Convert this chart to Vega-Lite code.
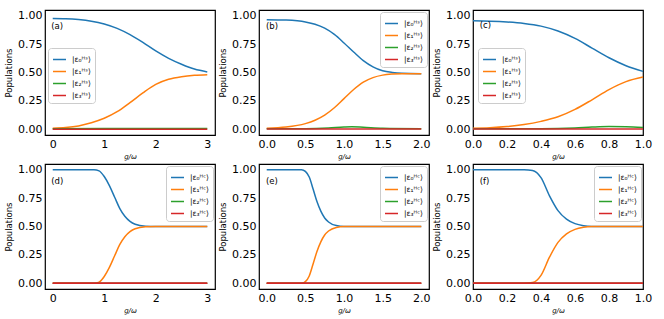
{
  "$schema": "https://vega.github.io/schema/vega-lite/v6.json",
  "padding": {"left": 3, "top": 9, "right": 5, "bottom": 5},
  "background": "white",
  "config": {
    "font": "DejaVu Sans",
    "view": {"stroke": "black", "strokeWidth": 1.2},
    "axis": {"labelFont": "DejaVu Sans", "labelFontSize": 11, "labelColor": "black", "titleFont": "DejaVu Sans", "titleFontSize": 8.5, "titleFontWeight": "normal", "titleColor": "black", "ticks": false, "grid": false, "domain": false, "labelPadding": 3, "labelOverlap": false, "labelFlush": false, "labelBound": false, "tickCount": 20},
    "axisY": {"titlePadding": 4},
    "axisX": {"titleFontStyle": "italic", "titleFontSize": 7, "titlePadding": 3},
    "legend": {"labelFont": "DejaVu Sans", "labelFontSize": 7.5, "labelColor": "black", "symbolType": "stroke", "symbolStrokeWidth": 1.5, "symbolSize": 169, "strokeColor": "#cccccc", "fillColor": "rgba(255,255,255,0.8)", "cornerRadius": 3, "padding": 4, "rowPadding": 1, "labelOffset": 5, "title": null}
  },
  "datasets": {
    "a": [
      {"g":0,"p":0.975,"s":"|ε₀ᴴˢ⟩"},{"g":0.25,"p":0.973,"s":"|ε₀ᴴˢ⟩"},{"g":0.5,"p":0.966,"s":"|ε₀ᴴˢ⟩"},{"g":0.75,"p":0.952,"s":"|ε₀ᴴˢ⟩"},{"g":1,"p":0.927,"s":"|ε₀ᴴˢ⟩"},{"g":1.25,"p":0.888,"s":"|ε₀ᴴˢ⟩"},{"g":1.5,"p":0.833,"s":"|ε₀ᴴˢ⟩"},{"g":1.75,"p":0.765,"s":"|ε₀ᴴˢ⟩"},{"g":2,"p":0.69,"s":"|ε₀ᴴˢ⟩"},{"g":2.25,"p":0.625,"s":"|ε₀ᴴˢ⟩"},{"g":2.5,"p":0.573,"s":"|ε₀ᴴˢ⟩"},{"g":2.75,"p":0.53,"s":"|ε₀ᴴˢ⟩"},{"g":3,"p":0.505,"s":"|ε₀ᴴˢ⟩"},
      {"g":0,"p":0.01,"s":"|ε₁ᴴˢ⟩"},{"g":0.25,"p":0.016,"s":"|ε₁ᴴˢ⟩"},{"g":0.5,"p":0.03,"s":"|ε₁ᴴˢ⟩"},{"g":0.75,"p":0.058,"s":"|ε₁ᴴˢ⟩"},{"g":1,"p":0.097,"s":"|ε₁ᴴˢ⟩"},{"g":1.25,"p":0.155,"s":"|ε₁ᴴˢ⟩"},{"g":1.5,"p":0.235,"s":"|ε₁ᴴˢ⟩"},{"g":1.75,"p":0.32,"s":"|ε₁ᴴˢ⟩"},{"g":2,"p":0.395,"s":"|ε₁ᴴˢ⟩"},{"g":2.25,"p":0.44,"s":"|ε₁ᴴˢ⟩"},{"g":2.5,"p":0.463,"s":"|ε₁ᴴˢ⟩"},{"g":2.75,"p":0.475,"s":"|ε₁ᴴˢ⟩"},{"g":3,"p":0.48,"s":"|ε₁ᴴˢ⟩"},
      {"g":0,"p":0.006,"s":"|ε₂ᴴˢ⟩"},{"g":1,"p":0.007,"s":"|ε₂ᴴˢ⟩"},{"g":2,"p":0.008,"s":"|ε₂ᴴˢ⟩"},{"g":3,"p":0.008,"s":"|ε₂ᴴˢ⟩"},
      {"g":0,"p":0.001,"s":"|ε₃ᴴˢ⟩"},{"g":1,"p":0.001,"s":"|ε₃ᴴˢ⟩"},{"g":2,"p":0.001,"s":"|ε₃ᴴˢ⟩"},{"g":3,"p":0.001,"s":"|ε₃ᴴˢ⟩"}
    ],
    "b": [
      {"g":0,"p":0.965,"s":"|ε₀ᴴˢ⟩"},{"g":0.25,"p":0.961,"s":"|ε₀ᴴˢ⟩"},{"g":0.5,"p":0.945,"s":"|ε₀ᴴˢ⟩"},{"g":0.625,"p":0.925,"s":"|ε₀ᴴˢ⟩"},{"g":0.75,"p":0.89,"s":"|ε₀ᴴˢ⟩"},{"g":0.875,"p":0.835,"s":"|ε₀ᴴˢ⟩"},{"g":1,"p":0.76,"s":"|ε₀ᴴˢ⟩"},{"g":1.125,"p":0.68,"s":"|ε₀ᴴˢ⟩"},{"g":1.25,"p":0.605,"s":"|ε₀ᴴˢ⟩"},{"g":1.375,"p":0.55,"s":"|ε₀ᴴˢ⟩"},{"g":1.5,"p":0.515,"s":"|ε₀ᴴˢ⟩"},{"g":1.625,"p":0.5,"s":"|ε₀ᴴˢ⟩"},{"g":1.75,"p":0.493,"s":"|ε₀ᴴˢ⟩"},{"g":2,"p":0.49,"s":"|ε₀ᴴˢ⟩"},
      {"g":0,"p":0.01,"s":"|ε₁ᴴˢ⟩"},{"g":0.25,"p":0.02,"s":"|ε₁ᴴˢ⟩"},{"g":0.5,"p":0.05,"s":"|ε₁ᴴˢ⟩"},{"g":0.625,"p":0.08,"s":"|ε₁ᴴˢ⟩"},{"g":0.75,"p":0.125,"s":"|ε₁ᴴˢ⟩"},{"g":0.875,"p":0.19,"s":"|ε₁ᴴˢ⟩"},{"g":1,"p":0.27,"s":"|ε₁ᴴˢ⟩"},{"g":1.125,"p":0.35,"s":"|ε₁ᴴˢ⟩"},{"g":1.25,"p":0.415,"s":"|ε₁ᴴˢ⟩"},{"g":1.375,"p":0.455,"s":"|ε₁ᴴˢ⟩"},{"g":1.5,"p":0.477,"s":"|ε₁ᴴˢ⟩"},{"g":1.625,"p":0.486,"s":"|ε₁ᴴˢ⟩"},{"g":1.75,"p":0.489,"s":"|ε₁ᴴˢ⟩"},{"g":2,"p":0.49,"s":"|ε₁ᴴˢ⟩"},
      {"g":0,"p":0.005,"s":"|ε₂ᴴˢ⟩"},{"g":0.5,"p":0.006,"s":"|ε₂ᴴˢ⟩"},{"g":0.8,"p":0.012,"s":"|ε₂ᴴˢ⟩"},{"g":1,"p":0.02,"s":"|ε₂ᴴˢ⟩"},{"g":1.1,"p":0.022,"s":"|ε₂ᴴˢ⟩"},{"g":1.25,"p":0.018,"s":"|ε₂ᴴˢ⟩"},{"g":1.5,"p":0.01,"s":"|ε₂ᴴˢ⟩"},{"g":2,"p":0.006,"s":"|ε₂ᴴˢ⟩"},
      {"g":0,"p":0.003,"s":"|ε₃ᴴˢ⟩"},{"g":1,"p":0.003,"s":"|ε₃ᴴˢ⟩"},{"g":2,"p":0.003,"s":"|ε₃ᴴˢ⟩"}
    ],
    "c": [
      {"g":0,"p":0.955,"s":"|ε₀ᴴˢ⟩"},{"g":0.1,"p":0.952,"s":"|ε₀ᴴˢ⟩"},{"g":0.2,"p":0.945,"s":"|ε₀ᴴˢ⟩"},{"g":0.3,"p":0.932,"s":"|ε₀ᴴˢ⟩"},{"g":0.4,"p":0.908,"s":"|ε₀ᴴˢ⟩"},{"g":0.5,"p":0.865,"s":"|ε₀ᴴˢ⟩"},{"g":0.6,"p":0.8,"s":"|ε₀ᴴˢ⟩"},{"g":0.7,"p":0.715,"s":"|ε₀ᴴˢ⟩"},{"g":0.8,"p":0.63,"s":"|ε₀ᴴˢ⟩"},{"g":0.9,"p":0.56,"s":"|ε₀ᴴˢ⟩"},{"g":1,"p":0.51,"s":"|ε₀ᴴˢ⟩"},
      {"g":0,"p":0.01,"s":"|ε₁ᴴˢ⟩"},{"g":0.1,"p":0.014,"s":"|ε₁ᴴˢ⟩"},{"g":0.2,"p":0.024,"s":"|ε₁ᴴˢ⟩"},{"g":0.3,"p":0.042,"s":"|ε₁ᴴˢ⟩"},{"g":0.4,"p":0.07,"s":"|ε₁ᴴˢ⟩"},{"g":0.5,"p":0.11,"s":"|ε₁ᴴˢ⟩"},{"g":0.6,"p":0.175,"s":"|ε₁ᴴˢ⟩"},{"g":0.7,"p":0.26,"s":"|ε₁ᴴˢ⟩"},{"g":0.8,"p":0.35,"s":"|ε₁ᴴˢ⟩"},{"g":0.9,"p":0.42,"s":"|ε₁ᴴˢ⟩"},{"g":1,"p":0.46,"s":"|ε₁ᴴˢ⟩"},
      {"g":0,"p":0.004,"s":"|ε₂ᴴˢ⟩"},{"g":0.4,"p":0.005,"s":"|ε₂ᴴˢ⟩"},{"g":0.6,"p":0.012,"s":"|ε₂ᴴˢ⟩"},{"g":0.7,"p":0.02,"s":"|ε₂ᴴˢ⟩"},{"g":0.8,"p":0.025,"s":"|ε₂ᴴˢ⟩"},{"g":0.9,"p":0.023,"s":"|ε₂ᴴˢ⟩"},{"g":1,"p":0.016,"s":"|ε₂ᴴˢ⟩"},
      {"g":0,"p":0.003,"s":"|ε₃ᴴˢ⟩"},{"g":0.5,"p":0.003,"s":"|ε₃ᴴˢ⟩"},{"g":1,"p":0.003,"s":"|ε₃ᴴˢ⟩"}
    ],
    "d": [
      {"g":0,"p":1,"s":"|ε₀ᴴᶜ⟩"},{"g":0.8,"p":1,"s":"|ε₀ᴴᶜ⟩"},{"g":0.9,"p":0.99,"s":"|ε₀ᴴᶜ⟩"},{"g":1,"p":0.94,"s":"|ε₀ᴴᶜ⟩"},{"g":1.1,"p":0.86,"s":"|ε₀ᴴᶜ⟩"},{"g":1.2,"p":0.76,"s":"|ε₀ᴴᶜ⟩"},{"g":1.3,"p":0.66,"s":"|ε₀ᴴᶜ⟩"},{"g":1.4,"p":0.59,"s":"|ε₀ᴴᶜ⟩"},{"g":1.5,"p":0.545,"s":"|ε₀ᴴᶜ⟩"},{"g":1.6,"p":0.52,"s":"|ε₀ᴴᶜ⟩"},{"g":1.8,"p":0.503,"s":"|ε₀ᴴᶜ⟩"},{"g":2,"p":0.5,"s":"|ε₀ᴴᶜ⟩"},{"g":3,"p":0.5,"s":"|ε₀ᴴᶜ⟩"},
      {"g":0,"p":0,"s":"|ε₁ᴴᶜ⟩"},{"g":0.8,"p":0,"s":"|ε₁ᴴᶜ⟩"},{"g":0.9,"p":0.01,"s":"|ε₁ᴴᶜ⟩"},{"g":1,"p":0.06,"s":"|ε₁ᴴᶜ⟩"},{"g":1.1,"p":0.14,"s":"|ε₁ᴴᶜ⟩"},{"g":1.2,"p":0.24,"s":"|ε₁ᴴᶜ⟩"},{"g":1.3,"p":0.34,"s":"|ε₁ᴴᶜ⟩"},{"g":1.4,"p":0.41,"s":"|ε₁ᴴᶜ⟩"},{"g":1.5,"p":0.455,"s":"|ε₁ᴴᶜ⟩"},{"g":1.6,"p":0.48,"s":"|ε₁ᴴᶜ⟩"},{"g":1.8,"p":0.497,"s":"|ε₁ᴴᶜ⟩"},{"g":2,"p":0.5,"s":"|ε₁ᴴᶜ⟩"},{"g":3,"p":0.5,"s":"|ε₁ᴴᶜ⟩"},
      {"g":0,"p":0,"s":"|ε₂ᴴᶜ⟩"},{"g":3,"p":0,"s":"|ε₂ᴴᶜ⟩"},
      {"g":0,"p":0,"s":"|ε₃ᴴᶜ⟩"},{"g":3,"p":0,"s":"|ε₃ᴴᶜ⟩"}
    ],
    "e": [
      {"g":0,"p":1,"s":"|ε₀ᴴᶜ⟩"},{"g":0.45,"p":1,"s":"|ε₀ᴴᶜ⟩"},{"g":0.5,"p":0.985,"s":"|ε₀ᴴᶜ⟩"},{"g":0.55,"p":0.935,"s":"|ε₀ᴴᶜ⟩"},{"g":0.6,"p":0.83,"s":"|ε₀ᴴᶜ⟩"},{"g":0.65,"p":0.72,"s":"|ε₀ᴴᶜ⟩"},{"g":0.7,"p":0.635,"s":"|ε₀ᴴᶜ⟩"},{"g":0.75,"p":0.575,"s":"|ε₀ᴴᶜ⟩"},{"g":0.8,"p":0.54,"s":"|ε₀ᴴᶜ⟩"},{"g":0.9,"p":0.508,"s":"|ε₀ᴴᶜ⟩"},{"g":1,"p":0.5,"s":"|ε₀ᴴᶜ⟩"},{"g":2,"p":0.5,"s":"|ε₀ᴴᶜ⟩"},
      {"g":0,"p":0,"s":"|ε₁ᴴᶜ⟩"},{"g":0.45,"p":0,"s":"|ε₁ᴴᶜ⟩"},{"g":0.5,"p":0.015,"s":"|ε₁ᴴᶜ⟩"},{"g":0.55,"p":0.065,"s":"|ε₁ᴴᶜ⟩"},{"g":0.6,"p":0.17,"s":"|ε₁ᴴᶜ⟩"},{"g":0.65,"p":0.28,"s":"|ε₁ᴴᶜ⟩"},{"g":0.7,"p":0.365,"s":"|ε₁ᴴᶜ⟩"},{"g":0.75,"p":0.425,"s":"|ε₁ᴴᶜ⟩"},{"g":0.8,"p":0.46,"s":"|ε₁ᴴᶜ⟩"},{"g":0.9,"p":0.492,"s":"|ε₁ᴴᶜ⟩"},{"g":1,"p":0.5,"s":"|ε₁ᴴᶜ⟩"},{"g":2,"p":0.5,"s":"|ε₁ᴴᶜ⟩"},
      {"g":0,"p":0,"s":"|ε₂ᴴᶜ⟩"},{"g":2,"p":0,"s":"|ε₂ᴴᶜ⟩"},
      {"g":0,"p":0,"s":"|ε₃ᴴᶜ⟩"},{"g":2,"p":0,"s":"|ε₃ᴴᶜ⟩"}
    ],
    "f": [
      {"g":0,"p":1,"s":"|ε₀ᴴᶜ⟩"},{"g":0.3,"p":1,"s":"|ε₀ᴴᶜ⟩"},{"g":0.35,"p":0.993,"s":"|ε₀ᴴᶜ⟩"},{"g":0.4,"p":0.93,"s":"|ε₀ᴴᶜ⟩"},{"g":0.45,"p":0.77,"s":"|ε₀ᴴᶜ⟩"},{"g":0.5,"p":0.64,"s":"|ε₀ᴴᶜ⟩"},{"g":0.55,"p":0.565,"s":"|ε₀ᴴᶜ⟩"},{"g":0.6,"p":0.525,"s":"|ε₀ᴴᶜ⟩"},{"g":0.65,"p":0.507,"s":"|ε₀ᴴᶜ⟩"},{"g":0.7,"p":0.501,"s":"|ε₀ᴴᶜ⟩"},{"g":1,"p":0.5,"s":"|ε₀ᴴᶜ⟩"},
      {"g":0,"p":0,"s":"|ε₁ᴴᶜ⟩"},{"g":0.3,"p":0,"s":"|ε₁ᴴᶜ⟩"},{"g":0.35,"p":0.007,"s":"|ε₁ᴴᶜ⟩"},{"g":0.4,"p":0.07,"s":"|ε₁ᴴᶜ⟩"},{"g":0.45,"p":0.23,"s":"|ε₁ᴴᶜ⟩"},{"g":0.5,"p":0.36,"s":"|ε₁ᴴᶜ⟩"},{"g":0.55,"p":0.435,"s":"|ε₁ᴴᶜ⟩"},{"g":0.6,"p":0.475,"s":"|ε₁ᴴᶜ⟩"},{"g":0.65,"p":0.493,"s":"|ε₁ᴴᶜ⟩"},{"g":0.7,"p":0.499,"s":"|ε₁ᴴᶜ⟩"},{"g":1,"p":0.5,"s":"|ε₁ᴴᶜ⟩"},
      {"g":0,"p":0,"s":"|ε₂ᴴᶜ⟩"},{"g":1,"p":0,"s":"|ε₂ᴴᶜ⟩"},
      {"g":0,"p":0,"s":"|ε₃ᴴᶜ⟩"},{"g":1,"p":0,"s":"|ε₃ᴴᶜ⟩"}
    ]
  },
  "columns": 3,
  "spacing": {"row": 29, "column": 44},
  "bounds": "flush",
  "resolve": {"scale": {"color": "independent", "x": "independent", "y": "independent"}, "legend": {"color": "independent"}},
  "concat": [
    {"width": 170, "height": 125, "data": {"name": "a"}, "layer": [
      {"mark": {"type": "line", "strokeWidth": 1.5, "interpolate": "monotone"}, "encoding": {
        "x": {"field": "g", "type": "quantitative", "scale": {"domain": [-0.15, 3.15], "nice": false, "zero": false}, "axis": {"values": [0, 1, 2, 3], "format": "d", "title": "g/ω", "labelOverlap": false, "tickCount": 20}},
        "y": {"field": "p", "type": "quantitative", "scale": {"domain": [-0.05, 1.05], "nice": false}, "axis": {"values": [0, 0.25, 0.5, 0.75, 1], "format": ".2f", "title": "Populations", "labelOverlap": false, "tickCount": 20}},
        "color": {"field": "s", "type": "nominal", "scale": {"domain": ["|ε₀ᴴˢ⟩", "|ε₁ᴴˢ⟩", "|ε₂ᴴˢ⟩", "|ε₃ᴴˢ⟩"], "range": ["#1f77b4", "#ff7f0e", "#2ca02c", "#d62728"]}, "legend": {"orient": "none", "legendX": 3, "legendY": 38}}}},
      {"data": {"values": [{"t": "(a)"}]}, "mark": {"type": "text", "align": "left", "baseline": "middle", "fontSize": 8.5, "color": "black"}, "encoding": {"x": {"datum": -0.03}, "y": {"datum": 0.91}, "text": {"field": "t"}}}
    ]},
    {"width": 170, "height": 125, "data": {"name": "b"}, "layer": [
      {"mark": {"type": "line", "strokeWidth": 1.5, "interpolate": "monotone"}, "encoding": {
        "x": {"field": "g", "type": "quantitative", "scale": {"domain": [-0.1, 2.1], "nice": false, "zero": false}, "axis": {"values": [0, 0.5, 1, 1.5, 2], "format": ".1f", "title": "g/ω", "labelOverlap": false, "tickCount": 20}},
        "y": {"field": "p", "type": "quantitative", "scale": {"domain": [-0.05, 1.05], "nice": false}, "axis": {"values": [0, 0.25, 0.5, 0.75, 1], "format": ".2f", "title": "Populations", "labelOverlap": false, "tickCount": 20}},
        "color": {"field": "s", "type": "nominal", "scale": {"domain": ["|ε₀ᴴˢ⟩", "|ε₁ᴴˢ⟩", "|ε₂ᴴˢ⟩", "|ε₃ᴴˢ⟩"], "range": ["#1f77b4", "#ff7f0e", "#2ca02c", "#d62728"]}, "legend": {"orient": "top-right", "offset": 2}}}},
      {"data": {"values": [{"t": "(b)"}]}, "mark": {"type": "text", "align": "left", "baseline": "middle", "fontSize": 8.5, "color": "black"}, "encoding": {"x": {"datum": -0.01}, "y": {"datum": 0.905}, "text": {"field": "t"}}}
    ]},
    {"width": 170, "height": 125, "data": {"name": "c"}, "layer": [
      {"mark": {"type": "line", "strokeWidth": 1.5, "interpolate": "monotone"}, "encoding": {
        "x": {"field": "g", "type": "quantitative", "scale": {"domain": [0, 1], "nice": false, "zero": false}, "axis": {"values": [0, 0.2, 0.4, 0.6, 0.8, 1], "format": ".1f", "title": "g/ω", "labelOverlap": false, "tickCount": 20}},
        "y": {"field": "p", "type": "quantitative", "scale": {"domain": [-0.05, 1.05], "nice": false}, "axis": {"values": [0, 0.25, 0.5, 0.75, 1], "format": ".2f", "title": "Populations", "labelOverlap": false, "tickCount": 20}},
        "color": {"field": "s", "type": "nominal", "scale": {"domain": ["|ε₀ᴴˢ⟩", "|ε₁ᴴˢ⟩", "|ε₂ᴴˢ⟩", "|ε₃ᴴˢ⟩"], "range": ["#1f77b4", "#ff7f0e", "#2ca02c", "#d62728"]}, "legend": {"orient": "none", "legendX": 5, "legendY": 38}}}},
      {"data": {"values": [{"t": "(c)"}]}, "mark": {"type": "text", "align": "left", "baseline": "middle", "fontSize": 8.5, "color": "black"}, "encoding": {"x": {"datum": 0.04}, "y": {"datum": 0.92}, "text": {"field": "t"}}}
    ]},
    {"width": 170, "height": 125, "data": {"name": "d"}, "layer": [
      {"mark": {"type": "line", "strokeWidth": 1.5, "interpolate": "monotone"}, "encoding": {
        "x": {"field": "g", "type": "quantitative", "scale": {"domain": [-0.15, 3.15], "nice": false, "zero": false}, "axis": {"values": [0, 1, 2, 3], "format": "d", "title": "g/ω", "labelOverlap": false, "tickCount": 20}},
        "y": {"field": "p", "type": "quantitative", "scale": {"domain": [-0.05, 1.05], "nice": false}, "axis": {"values": [0, 0.25, 0.5, 0.75, 1], "format": ".2f", "title": "Populations", "labelOverlap": false, "tickCount": 20}},
        "color": {"field": "s", "type": "nominal", "scale": {"domain": ["|ε₀ᴴᶜ⟩", "|ε₁ᴴᶜ⟩", "|ε₂ᴴᶜ⟩", "|ε₃ᴴᶜ⟩"], "range": ["#1f77b4", "#ff7f0e", "#2ca02c", "#d62728"]}, "legend": {"orient": "top-right", "offset": 2}}}},
      {"transform": [{"filter": "datum.s == '|ε₃ᴴᶜ⟩'"}], "mark": {"type": "line", "strokeWidth": 1.5}, "encoding": {"x": {"field": "g", "type": "quantitative"}, "y": {"field": "p", "type": "quantitative"}, "color": {"field": "s", "type": "nominal"}}},
      {"data": {"values": [{"t": "(d)"}]}, "mark": {"type": "text", "align": "left", "baseline": "middle", "fontSize": 8.5, "color": "black"}, "encoding": {"x": {"datum": -0.03}, "y": {"datum": 0.9}, "text": {"field": "t"}}}
    ]},
    {"width": 170, "height": 125, "data": {"name": "e"}, "layer": [
      {"mark": {"type": "line", "strokeWidth": 1.5, "interpolate": "monotone"}, "encoding": {
        "x": {"field": "g", "type": "quantitative", "scale": {"domain": [-0.1, 2.1], "nice": false, "zero": false}, "axis": {"values": [0, 0.5, 1, 1.5, 2], "format": ".1f", "title": "g/ω", "labelOverlap": false, "tickCount": 20}},
        "y": {"field": "p", "type": "quantitative", "scale": {"domain": [-0.05, 1.05], "nice": false}, "axis": {"values": [0, 0.25, 0.5, 0.75, 1], "format": ".2f", "title": "Populations", "labelOverlap": false, "tickCount": 20}},
        "color": {"field": "s", "type": "nominal", "scale": {"domain": ["|ε₀ᴴᶜ⟩", "|ε₁ᴴᶜ⟩", "|ε₂ᴴᶜ⟩", "|ε₃ᴴᶜ⟩"], "range": ["#1f77b4", "#ff7f0e", "#2ca02c", "#d62728"]}, "legend": {"orient": "top-right", "offset": 2}}}},
      {"transform": [{"filter": "datum.s == '|ε₃ᴴᶜ⟩'"}], "mark": {"type": "line", "strokeWidth": 1.5}, "encoding": {"x": {"field": "g", "type": "quantitative"}, "y": {"field": "p", "type": "quantitative"}, "color": {"field": "s", "type": "nominal"}}},
      {"data": {"values": [{"t": "(e)"}]}, "mark": {"type": "text", "align": "left", "baseline": "middle", "fontSize": 8.5, "color": "black"}, "encoding": {"x": {"datum": -0.01}, "y": {"datum": 0.9}, "text": {"field": "t"}}}
    ]},
    {"width": 170, "height": 125, "data": {"name": "f"}, "layer": [
      {"mark": {"type": "line", "strokeWidth": 1.5, "interpolate": "monotone"}, "encoding": {
        "x": {"field": "g", "type": "quantitative", "scale": {"domain": [0, 1], "nice": false, "zero": false}, "axis": {"values": [0, 0.2, 0.4, 0.6, 0.8, 1], "format": ".1f", "title": "g/ω", "labelOverlap": false, "tickCount": 20}},
        "y": {"field": "p", "type": "quantitative", "scale": {"domain": [-0.05, 1.05], "nice": false}, "axis": {"values": [0, 0.25, 0.5, 0.75, 1], "format": ".2f", "title": "Populations", "labelOverlap": false, "tickCount": 20}},
        "color": {"field": "s", "type": "nominal", "scale": {"domain": ["|ε₀ᴴᶜ⟩", "|ε₁ᴴᶜ⟩", "|ε₂ᴴᶜ⟩", "|ε₃ᴴᶜ⟩"], "range": ["#1f77b4", "#ff7f0e", "#2ca02c", "#d62728"]}, "legend": {"orient": "top-right", "offset": 2}}}},
      {"transform": [{"filter": "datum.s == '|ε₃ᴴᶜ⟩'"}], "mark": {"type": "line", "strokeWidth": 1.5}, "encoding": {"x": {"field": "g", "type": "quantitative"}, "y": {"field": "p", "type": "quantitative"}, "color": {"field": "s", "type": "nominal"}}},
      {"data": {"values": [{"t": "(f)"}]}, "mark": {"type": "text", "align": "left", "baseline": "middle", "fontSize": 8.5, "color": "black"}, "encoding": {"x": {"datum": 0.04}, "y": {"datum": 0.9}, "text": {"field": "t"}}}
    ]}
  ]
}
